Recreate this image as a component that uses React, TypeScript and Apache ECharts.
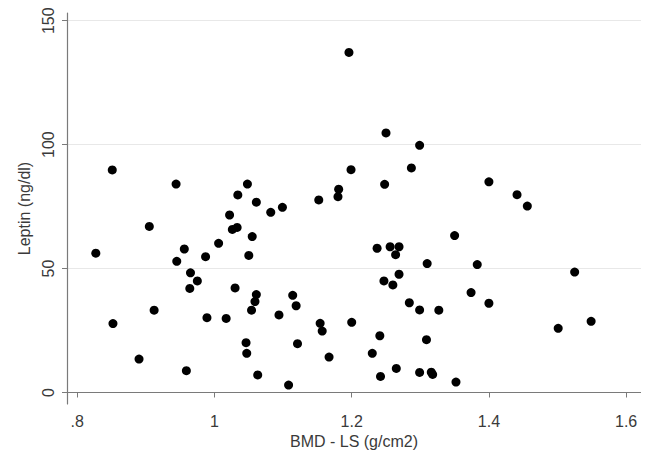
import React, { useEffect, useRef } from "react";
import * as echarts from "echarts";

const xTicks = [0.8, 1, 1.2, 1.4, 1.6];
const yTicks = [0, 50, 100, 150];

const bmd = [
  0.827, 0.851, 0.852, 0.890, 0.905, 0.912, 0.944, 0.945, 0.956, 0.965,
  0.964, 0.975, 0.959, 0.987, 0.989, 1.006, 1.017, 1.022, 1.026, 1.033,
  1.034, 1.030, 1.048, 1.046, 1.047, 1.050, 1.055, 1.054, 1.059, 1.061,
  1.061, 1.063, 1.082, 1.099, 1.094, 1.108, 1.114, 1.119, 1.121, 1.152,
  1.154, 1.157, 1.167, 1.180, 1.181, 1.196, 1.199, 1.200, 1.230, 1.237,
  1.241, 1.242, 1.247, 1.248, 1.250, 1.256, 1.260, 1.264, 1.265, 1.269,
  1.269, 1.284, 1.287, 1.299, 1.299, 1.299, 1.310, 1.309, 1.316, 1.318,
  1.327, 1.352, 1.350, 1.374, 1.383, 1.400, 1.400, 1.441, 1.456, 1.501,
  1.525, 1.549,
];

const leptin = [
  56.2, 89.8, 27.8, 13.5, 67.0, 33.2, 84.1, 52.9, 57.9, 48.3,
  42.0, 45.0, 8.8, 54.8, 30.2, 60.2, 29.9, 71.6, 65.8, 66.6,
  79.7, 42.2, 84.1, 20.1, 15.8, 55.3, 62.9, 33.2, 36.7, 39.5,
  76.8, 7.1, 72.7, 74.7, 31.3, 3.0, 39.2, 35.0, 19.7, 77.7,
  27.9, 24.8, 14.3, 79.0, 82.0, 137.2, 89.9, 28.3, 15.8, 58.2,
  22.9, 6.5, 45.0, 84.0, 104.7, 58.8, 43.4, 55.6, 9.7, 58.8,
  47.7, 36.2, 90.6, 99.7, 33.3, 8.1, 52.0, 21.3, 8.2, 7.3,
  33.2, 4.2, 63.3, 40.3, 51.6, 85.0, 36.0, 79.8, 75.2, 25.9,
  48.6, 28.7,
];

const points = bmd.map((x, i) => [x, leptin[i]]);

export default function App() {
  const ref = useRef<HTMLDivElement>(null);
  useEffect(() => {
    if (!ref.current) return;
    const chart = echarts.init(ref.current, null, { renderer: "svg" });
    const font = "'Liberation Sans', Arial, sans-serif";
    chart.setOption({
      animation: false,
      backgroundColor: "#ffffff",
      grid: { left: 67, top: 13, width: 574, height: 391, containLabel: false },
      xAxis: {
        type: "value",
        min: 0.785,
        max: 1.6217,
        name: "BMD - LS (g/cm2)",
        nameLocation: "middle",
        nameGap: 28,
        nameTextStyle: { fontFamily: font, fontSize: 16, color: "#3a3a3a" },
        axisLine: { show: true, lineStyle: { color: "#7a7a7a", width: 1.2 } },
        axisTick: { show: true, customValues: xTicks, length: 5, lineStyle: { color: "#7a7a7a" } },
        axisLabel: {
          customValues: xTicks,
          margin: 9,
          fontFamily: font,
          fontSize: 16,
          color: "#3a3a3a",
          formatter: (v: number) => (v < 1 ? String(v).replace(/^0/, "") : String(v)),
        },
        splitLine: { show: false },
      },
      yAxis: {
        type: "value",
        min: -4.64,
        max: 153.1,
        name: "Leptin (ng/dl)",
        nameLocation: "middle",
        nameGap: 34,
        nameTextStyle: { fontFamily: font, fontSize: 16, color: "#3a3a3a" },
        axisLine: { show: true, lineStyle: { color: "#7a7a7a", width: 1.2 } },
        axisTick: { show: true, customValues: yTicks, length: 5, lineStyle: { color: "#7a7a7a" } },
        axisLabel: {
          customValues: yTicks,
          rotate: 90,
          margin: 11,
          fontFamily: font,
          fontSize: 16,
          color: "#3a3a3a",
        },
        splitLine: { show: false },
      },
      series: [
        {
          type: "scatter",
          data: points,
          symbol: "circle",
          symbolSize: 9,
          itemStyle: { color: "#000000", opacity: 1 },
          markLine: {
            silent: true,
            symbol: ["none", "none"],
            label: { show: false },
            lineStyle: { color: "#e8e8e8", type: "solid", width: 1 },
            data: yTicks.map((v) => ({ yAxis: v })),
            z: 0,
          },
        },
      ],
      graphic: [
        {
          type: "rect",
          shape: { x: 641, y: 0, width: 9, height: 459 },
          style: { fill: "#ffffff" },
          z: 100,
        },
      ],
    });
    return () => chart.dispose();
  }, []);
  return (
    <div
      ref={ref}
      style={{ position: "fixed", left: 0, top: 0, width: 650, height: 459, background: "#fff" }}
    />
  );
}
